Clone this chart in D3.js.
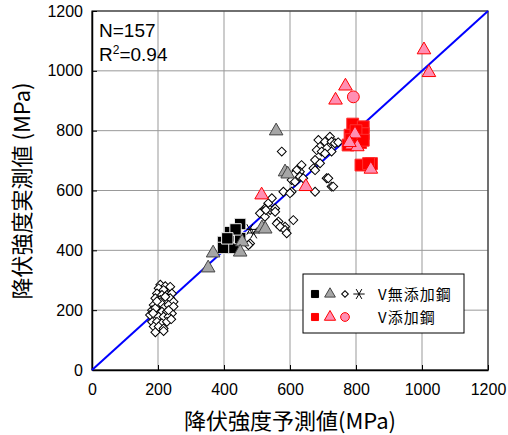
<!DOCTYPE html>
<html>
<head>
<meta charset="utf-8">
<script src="https://cdn.jsdelivr.net/npm/d3@7"></script>
<style>
	body { margin: 0; background: #fff; }
	text { font-family: "Liberation Sans", Arial, sans-serif; }
	.jp { font-family: "Noto Sans CJK JP", sans-serif; }
</style>
</head>
<body>
<script>
	// axis ticks
	var xTicks = [0, 200, 400, 600, 800, 1000, 1200];
	var yTicks = [0, 200, 400, 600, 800, 1000, 1200];

	// [predicted, measured] (MPa) - V free steels
	var noVSquares = [[449, 488], [418, 461], [397, 428], [424, 431], [428, 408], [397, 408], [449, 441], [435, 470], [410, 440]];
	var noVTriangles = [[558, 799], [585, 662], [515, 475], [525, 471], [455, 428], [449, 394], [367, 391], [352, 341], [593, 655]];
	var noVAsterisks = [[478, 470], [490, 458]];
	var noVDiamonds = [
		[207, 285], [222, 280], [202, 273], [217, 267], [237, 278], [197, 256], [212, 251], [227, 251],
		[242, 256], [192, 240], [207, 234], [222, 234], [237, 240], [247, 228], [187, 217], [202, 217],
		[217, 212], [232, 217], [247, 212], [182, 200], [197, 195], [212, 195], [227, 195], [242, 189],
		[187, 178], [202, 178], [217, 178], [232, 178], [182, 161], [197, 161], [212, 156], [227, 161],
		[187, 145], [202, 145], [217, 139], [192, 126], [217, 130], [176, 184], [192, 206], [232, 200],
		[207, 226], [222, 245], [197, 230], [240, 170], [185, 190],
		[575, 730], [686, 769], [706, 763], [721, 780], [726, 763], [736, 758], [746, 761], [691, 746],
		[711, 741], [681, 735], [696, 730], [726, 730], [706, 724], [676, 702], [691, 691], [671, 674],
		[635, 685], [630, 663], [620, 668], [610, 652], [630, 646], [605, 635], [615, 629], [640, 641],
		[676, 668], [711, 641], [726, 613], [731, 613], [676, 596], [580, 596], [605, 596], [600, 591],
		[545, 574], [534, 557], [524, 540], [519, 529], [540, 535], [555, 540], [509, 524], [565, 496],
		[610, 501], [585, 479], [524, 512], [527, 535], [555, 529], [560, 490], [570, 479], [585, 468],
		[590, 457], [479, 423], [474, 418], [716, 641]
	];

	// V added steels
	var vSquares = [[790, 822], [822, 813], [782, 785], [822, 790], [776, 752], [814, 760], [800, 800],
		[822, 768], [815, 685], [847, 690], [838, 690], [785, 770]];
	var vTriangles = [[1006, 1070], [1021, 994], [768, 949], [738, 902], [797, 789], [787, 752], [804, 746],
		[845, 671], [648, 613], [514, 585], [780, 760]];
	var vCircles = [[792, 913]];

	var margin = {left: 92, top: 11};
	var w = 396, h = 359;

	var svg = d3.select("body").append("svg").attr("width", 508).attr("height", 435);
	var g = svg.append("g").attr("transform", "translate(" + margin.left + "," + margin.top + ")");

	var x = d3.scaleLinear().domain([0, 1200]).range([0, w]);
	var y = d3.scaleLinear().domain([0, 1200]).range([h, 0]);

	// grid
	g.selectAll("line.gx").data(xTicks).enter().append("line")
		.attr("x1", function(d) { return x(d); }).attr("x2", function(d) { return x(d); })
		.attr("y1", 0).attr("y2", h).attr("stroke", "#999").attr("stroke-width", 1);
	g.selectAll("line.gy").data(yTicks).enter().append("line")
		.attr("y1", function(d) { return y(d); }).attr("y2", function(d) { return y(d); })
		.attr("x1", 0).attr("x2", w).attr("stroke", "#999").attr("stroke-width", 1);

	g.append("rect").attr("width", w).attr("height", h).attr("fill", "none")
		.attr("stroke", "#333").attr("stroke-width", 1.2);

	// axes, ticks pointing inward
	var fmt = d3.format("d");
	var xAxis = g.append("g").attr("transform", "translate(0," + h + ")")
		.call(d3.axisBottom(x).tickValues(xTicks).tickFormat(fmt).tickSizeInner(-5).tickSizeOuter(0).tickPadding(11));
	var yAxis = g.append("g")
		.call(d3.axisLeft(y).tickValues(yTicks).tickFormat(fmt).tickSizeInner(-5).tickSizeOuter(0).tickPadding(9));
	[xAxis, yAxis].forEach(function(a) {
		a.select(".domain").attr("stroke", "#000").attr("stroke-width", 1.5);
		a.selectAll(".tick line").attr("stroke", "#000");
		a.selectAll(".tick text").attr("font-size", 16).attr("fill", "#000")
			.attr("font-family", "'Liberation Sans', Arial, sans-serif");
	});
	xAxis.selectAll(".tick text").attr("dy", "0.9em");

	// 1:1 line
	g.append("line").attr("x1", x(0)).attr("y1", y(0)).attr("x2", x(1200)).attr("y2", y(1200))
		.attr("stroke", "#0000ff").attr("stroke-width", 2);

	function sym(type, size) { return d3.symbol().type(type).size(size)(); }

	function plot(data, type, size, fill, stroke, sw, rot) {
		g.append("g").selectAll("path").data(data).enter().append("path")
			.attr("d", sym(type, size))
			.attr("transform", function(d) {
				return "translate(" + x(d[0]) + "," + y(d[1]) + ")" + (rot ? " rotate(" + rot + ")" : "");
			})
			.attr("fill", fill).attr("stroke", stroke).attr("stroke-width", sw);
	}

	plot(noVDiamonds, d3.symbolSquare, 40, "#fff", "#000", 1, 45);
	plot(noVAsterisks, d3.symbolAsterisk, 110, "none", "#000", 1, 90);
	plot(noVSquares, d3.symbolSquare, 130, "#000", "#eee", 1);
	plot(noVTriangles, d3.symbolTriangle, 80, "#a6a6a6", "#444", 1);
	plot(vSquares, d3.symbolSquare, 140, "#ff0000", "#ff3030", 1);
	plot(vTriangles, d3.symbolTriangle, 80, "#ff8fb3", "#ff0000", 1);
	plot(vCircles, d3.symbolCircle, 110, "#ff8fb3", "#ff0000", 1);

	// stats text
	svg.append("text").attr("x", 99).attr("y", 37).attr("font-size", 19).text("N=157");
	var r2 = svg.append("text").attr("x", 99).attr("y", 61).attr("font-size", 19);
	r2.append("tspan").text("R");
	r2.append("tspan").attr("dy", -7).attr("font-size", 12).text("2");
	r2.append("tspan").attr("dy", 7).text("=0.94");

	// legend
	var lg = svg.append("g");
	lg.append("rect").attr("x", 303).attr("y", 274).attr("width", 161).attr("height", 59)
		.attr("fill", "#fff").attr("stroke", "#000").attr("stroke-width", 1);
	var legendRows = [
		{y: 294, label: "V無添加鋼", marks: [
			[d3.symbolSquare, 50, "#000", "#000", 0],
			[d3.symbolTriangle, 50, "#a6a6a6", "#444", 0],
			[d3.symbolSquare, 22, "#fff", "#000", 45],
			[d3.symbolAsterisk, 90, "none", "#000", 90]]},
		{y: 317, label: "V添加鋼", marks: [
			[d3.symbolSquare, 50, "#ff0000", "#ff0000", 0],
			[d3.symbolTriangle, 55, "#ff8fb3", "#ff0000", 0],
			[d3.symbolCircle, 60, "#ff8fb3", "#ff0000", 0]]}
	];
	var markX = [315, 330, 345, 359];
	legendRows.forEach(function(row) {
		row.marks.forEach(function(m, i) {
			lg.append("path").attr("d", sym(m[0], m[1]))
				.attr("transform", "translate(" + markX[i] + "," + row.y + ") rotate(" + m[4] + ")")
				.attr("fill", m[2]).attr("stroke", m[3]).attr("stroke-width", 1);
		});
		lg.append("text").attr("class", "jp").attr("x", 378).attr("y", row.y + 6)
			.attr("font-size", 15).attr("letter-spacing", 1).text(row.label);
	});

	// axis titles
	svg.append("text").attr("class", "jp").attr("x", 290).attr("y", 429)
		.attr("text-anchor", "middle").attr("font-size", 22).text("降伏強度予測値(MPa)");
	svg.append("text").attr("class", "jp")
		.attr("transform", "translate(30,191) rotate(-90)")
		.attr("text-anchor", "middle").attr("font-size", 22).text("降伏強度実測値 (MPa)");
</script>
</body>
</html>
